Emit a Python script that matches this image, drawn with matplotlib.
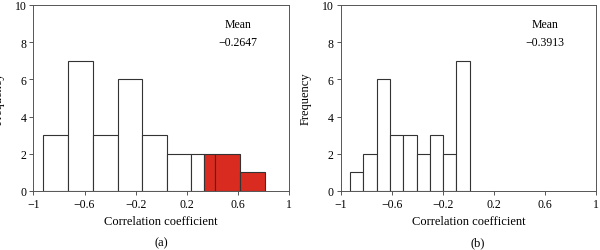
import matplotlib
matplotlib.use('Agg')
import matplotlib.pyplot as plt
import numpy as np

plt.rcParams['font.family'] = ['Liberation Serif', 'DejaVu Serif']
plt.rcParams['font.size'] = 8.5

# panel (a) histogram
edges_a = [-0.922, -0.731, -0.535, -0.342, -0.151, 0.044, 0.235, 0.330, 0.420, 0.614, 0.808]
counts_a = [3, 7, 3, 6, 3, 2, 2, 2, 2, 1]
colors_a = ['white'] * 7 + ['#d92b1f'] * 3
mean_a = '\u22120.2647'

# panel (b) histogram
edges_b = [-0.927, -0.823, -0.718, -0.614, -0.510, -0.405, -0.304, -0.202, -0.099, 0.013]
counts_b = [1, 2, 6, 3, 3, 2, 3, 2, 7]
colors_b = ['white'] * 9
mean_b = '\u22120.3913'

xticks = [-1, -0.6, -0.2, 0.2, 0.6, 1]
xticklabels = ['\u22121', '\u22120.6', '\u22120.2', '0.2', '0.6', '1']
yticks = [0, 2, 4, 6, 8, 10]

fig = plt.figure(figsize=(6.0, 2.51), dpi=100)
ax1 = fig.add_axes([33.3/600, 1 - 192/251, 256/600, 186/251])
ax2 = fig.add_axes([340.7/600, 1 - 192/251, 255.3/600, 186/251])

def draw(ax, edges, counts, colors, mean, ypad):
    edges = np.array(edges)
    ax.bar(edges[:-1], counts, width=np.diff(edges), align='edge',
           color=colors, edgecolor='#333333', linewidth=0.8)
    ax.set_xlim(-1, 1)
    ax.set_ylim(0, 10)
    ax.set_xticks(xticks)
    ax.set_xticklabels(xticklabels)
    ax.set_yticks(yticks)
    ax.tick_params(direction='out', length=3, width=0.7, color='#555555', pad=2)
    for s in ax.spines.values():
        s.set_color('#555555')
        s.set_linewidth(0.7)
    ax.set_xlabel('Correlation coefficient', fontsize=9, labelpad=4)
    ax.set_ylabel('Frequency', fontsize=9, labelpad=ypad)
    ax.text(0.6, 9.0, 'Mean', ha='center', va='center', fontsize=8.5)
    ax.text(0.6, 8.0, mean, ha='center', va='center', fontsize=8.5)

draw(ax1, edges_a, counts_a, colors_a, mean_a, 7)
draw(ax2, edges_b, counts_b, colors_b, mean_b, 7)

fig.text(161/600, 1 - 243/251, '(a)', ha='center', va='center', fontsize=9)
fig.text(478/600, 1 - 243/251, '(b)', ha='center', va='center', fontsize=9)

fig.savefig('out.png', dpi=100)
